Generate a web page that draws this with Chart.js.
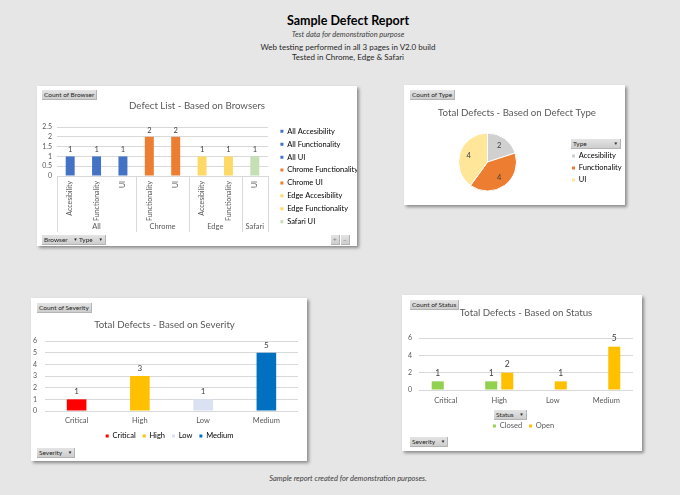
<!DOCTYPE html>
<html>
<head>
<meta charset="utf-8">
<script src="https://cdn.jsdelivr.net/npm/chart.js@4.4.1/dist/chart.umd.min.js"></script>
<style>
  body { margin:0; width:680px; height:495px; background:#e6e6e6; position:relative; overflow:hidden; font-family:Lato, "Open Sans", sans-serif; }
  .txt { position:absolute; left:0; width:696px; text-align:center; white-space:nowrap; color:#262626; }
  .panel { position:absolute; background:#fff; box-shadow:2px 2px 3px rgba(0,0,0,.4); }
  .panel canvas { position:absolute; left:0; top:0; }
  .btn { position:absolute; height:9px; line-height:9px; padding:0 2px; font-size:6.5px; color:#262626; background:linear-gradient(#e4e4e4,#cdcdcd); border-right:1px solid #b4b4b4; border-bottom:1px solid #b4b4b4; white-space:nowrap; }
  .btn i { font-style:normal; font-size:4.5px; margin-left:4px; vertical-align:top; }
</style>
</head>
<body>
<div class="txt" style="top:13px;line-height:16px;font-size:12.5px;font-weight:bold;color:#000">Sample Defect Report</div>
<div class="txt" style="top:30px;line-height:10px;font-size:7.5px;font-style:italic;color:#404040">Test data for demonstration purpose</div>
<div class="txt" style="top:42px;line-height:10px;font-size:8px">Web testing performed in all 3 pages in V2.0 build</div>
<div class="txt" style="top:52px;line-height:10px;font-size:8px">Tested in Chrome, Edge &amp; Safari</div>
<div class="txt" style="top:474px;line-height:10px;font-size:7.5px;font-style:italic;color:#404040">Sample report created for demonstration purposes.</div>

<div class="panel" style="left:37px;top:86px;width:320px;height:160px"><canvas id="c1" width="320" height="160"></canvas></div>
<div class="panel" style="left:404px;top:85px;width:221px;height:120px"><canvas id="c2" width="221" height="120"></canvas></div>
<div class="panel" style="left:31px;top:298px;width:276px;height:163px"><canvas id="c3" width="276" height="163"></canvas></div>
<div class="panel" style="left:402px;top:295px;width:240px;height:156px"><canvas id="c4" width="240" height="156"></canvas></div>

<div class="btn" style="left:42px;top:90px">Count of Browser</div>
<div class="btn" style="left:42px;top:235px">Browser <i>▼</i></div>
<div class="btn" style="left:77px;top:235px">Type <i>▼</i></div>
<div class="btn" style="left:331px;top:235px;color:#777">+</div>
<div class="btn" style="left:341px;top:235px;color:#777">−</div>
<div class="btn" style="left:410px;top:90px">Count of Type</div>
<div class="btn" style="left:571px;top:139px;width:45px">Type<i style="float:right">▼</i></div>
<div class="btn" style="left:37px;top:303px">Count of Severity</div>
<div class="btn" style="left:37px;top:448px">Severity <i>▼</i></div>
<div class="btn" style="left:410px;top:300px">Count of Status</div>
<div class="btn" style="left:494px;top:410px">Status <i>▼</i></div>
<div class="btn" style="left:410px;top:437px">Severity <i>▼</i></div>

<script>
// --- data ---
const browserGroups = ['All','All','All','Chrome','Chrome','Edge','Edge','Safari'];
const browserTypes  = ['Accesibility','Functionality','UI','Functionality','UI','Accesibility','Functionality','UI'];
const browserCounts = [1,1,1,2,2,1,1,1];
const browserTicks  = [0,0.5,1,1.5,2,2.5];

const defectTypes  = ['Accesibility','Functionality','UI'];
const defectCounts = [2,4,4];

const severityLabels = ['Critical','High','Low','Medium'];
const severityCounts = [1,3,1,5];
const severityTicks  = [0,1,2,3,4,5,6];

const statusCategories = ['Critical','High','Low','Medium'];
const closedCounts = [1,1,null,null];
const openCounts   = [null,2,1,5];
const statusTicks  = [0,2,4,6];

// --- colours ---
const groupColor = {All:'#4472c4', Chrome:'#ed7d31', Edge:'#ffd966', Safari:'#c5e0b4'};
const browserColors = browserGroups.map(g => groupColor[g]);
const typeColors = ['#d0d0d0','#ed7d31','#ffe699'];
const severityColors = ['#ff0000','#ffc000','#d9e1f2','#0070c0'];
const gridColor = '#d9d9d9';

Chart.defaults.font.family = 'Lato, "Open Sans", sans-serif';
Chart.defaults.color = '#595959';
Chart.defaults.animation = false;
Chart.defaults.plugins.tooltip.enabled = false;

// numbers above bars / inside slices
const valueLabels = {
  id: 'valueLabels',
  afterDatasetsDraw(chart, args, o) {
    const ctx = chart.ctx;
    ctx.save();
    ctx.font = o.size + 'px Lato';
    ctx.fillStyle = o.color || '#404040';
    ctx.textAlign = 'center';
    ctx.textBaseline = 'middle';
    chart.data.datasets.forEach((ds, di) => {
      chart.getDatasetMeta(di).data.forEach((el, i) => {
        const v = ds.data[i];
        if (v == null) return;
        let x = el.x, y = el.y - (o.gap || 0);
        if (o.radial) {
          const a = (el.startAngle + el.endAngle) / 2, r = el.outerRadius * o.radial;
          x = el.x + Math.cos(a) * r;
          y = el.y + Math.sin(a) * r;
        }
        ctx.fillText(v, x, y);
      });
    });
    ctx.restore();
  }
};

// fixed legend width + nudge
const legendBox = {
  id: 'legendBox',
  beforeLayout(chart, args, o) {
    const lg = chart.legend;
    if (!lg || lg._fixed || !o.width) return;
    const fit = lg.fit;
    lg.fit = function () { fit.call(this); this.width = o.width; };
    lg._fixed = true;
  },
  afterLayout(chart, args, o) {
    const lg = chart.legend;
    if (!lg) return;
    lg.left += o.dx || 0; lg.right += o.dx || 0;
    lg.top += o.dy || 0; lg.bottom += o.dy || 0;
  }
};

// second level of the category axis (All / Chrome / Edge / Safari)
const groupAxis = {
  id: 'groupAxis',
  afterDraw(chart, args, o) {
    const x = chart.scales.x, ctx = chart.ctx, g = o.groups, n = g.length;
    const half = (x.getPixelForValue(1) - x.getPixelForValue(0)) / 2;
    ctx.save();
    ctx.strokeStyle = o.lineColor; ctx.lineWidth = 1;
    ctx.font = o.size + 'px Lato'; ctx.fillStyle = '#595959';
    ctx.textAlign = 'center'; ctx.textBaseline = 'middle';
    const edges = [x.getPixelForValue(0) - half];
    let start = 0;
    for (let i = 1; i <= n; i++) {
      if (i === n || g[i] !== g[start]) {
        const l = x.getPixelForValue(start) - half, r = x.getPixelForValue(i - 1) + half;
        ctx.fillText(g[start], (l + r) / 2, x.bottom - o.labelOffset);
        edges.push(r);
        start = i;
      }
    }
    edges.forEach(px => {
      const p = Math.round(px) + 0.5;
      ctx.beginPath(); ctx.moveTo(p, x.top); ctx.lineTo(p, x.bottom); ctx.stroke();
    });
    ctx.restore();
  }
};

const titleFont = { size: 9.7, weight: 'normal' };

// --- chart 1: defects by browser ---
new Chart(document.getElementById('c1'), {
  type: 'bar',
  data: {
    labels: browserTypes,
    datasets: [{ data: browserCounts, backgroundColor: browserColors, barPercentage: 0.34, categoryPercentage: 1 }]
  },
  options: {
    responsive: false,
    layout: { padding: { left: 0, right: 0, top: 0, bottom: 14 } },
    scales: {
      x: {
        ticks: { autoSkip: false, minRotation: 90, maxRotation: 90, padding: 5, font: { size: 7 } },
        grid: { display: false, drawTicks: false }, border: { display: false },
        afterFit(s) { s.height = 56; }
      },
      y: {
        min: browserTicks[0], max: browserTicks[browserTicks.length - 1],
        afterBuildTicks(s) { s.ticks = browserTicks.map(v => ({ value: v })); },
        ticks: { autoSkip: false, padding: 5, font: { size: 7 }, callback: v => String(v) },
        grid: { color: gridColor, drawTicks: false }, border: { display: false },
        afterFit(s) { s.width = 20; }
      }
    },
    plugins: {
      title: { display: true, text: 'Defect List - Based on Browsers', color: '#595959',
               font: titleFont, padding: { top: 14.4, bottom: 15 } },
      legend: {
        position: 'right',
        labels: {
          boxWidth: 3, boxHeight: 3, padding: 5.4, font: { size: 7.5 },
          generateLabels: () => browserTypes.map((t, i) => ({
            text: browserGroups[i] + ' ' + t, fillStyle: browserColors[i], strokeStyle: browserColors[i],
            lineWidth: 0, hidden: false, index: i
          }))
        }
      },
      legendBox: { width: 89, dx: 7, dy: 17.5 },
      valueLabels: { size: 7.5, gap: 6.5 },
      groupAxis: { groups: browserGroups, lineColor: '#d9d9d9', size: 7.5, labelOffset: 5.5 }
    }
  },
  plugins: [valueLabels, legendBox, groupAxis]
});

// --- chart 2: defects by type ---
new Chart(document.getElementById('c2'), {
  type: 'pie',
  data: {
    labels: defectTypes,
    datasets: [{ data: defectCounts, backgroundColor: typeColors, borderColor: '#fff', borderWidth: 1, radius: 29 }]
  },
  options: {
    responsive: false,
    layout: { padding: { left: 10, right: 5, top: 0, bottom: 4.2 } },
    plugins: {
      title: { display: true, text: 'Total Defects - Based on Defect Type', color: '#595959',
               font: titleFont, padding: { top: 22.2, bottom: 4.4 } },
      legend: {
        position: 'right',
        labels: {
          boxWidth: 3, boxHeight: 3, padding: 4.5, font: { size: 7.5 },
          generateLabels: () => defectTypes.map((t, i) => ({
            text: t, fillStyle: typeColors[i], strokeStyle: typeColors[i], lineWidth: 0, hidden: false, index: i
          }))
        }
      },
      legendBox: { width: 59, dx: 6.5, dy: 25 },
      valueLabels: { size: 7.5, radial: 0.68 }
    }
  },
  plugins: [valueLabels, legendBox]
});

// --- chart 3: defects by severity ---
new Chart(document.getElementById('c3'), {
  type: 'bar',
  data: {
    labels: severityLabels,
    datasets: [{ data: severityCounts, backgroundColor: severityColors, barPercentage: 0.31, categoryPercentage: 1 }]
  },
  options: {
    responsive: false,
    layout: { padding: { left: 0, right: 9, top: 0, bottom: 11.25 } },
    scales: {
      x: {
        ticks: { padding: 5, font: { size: 7.5 } },
        grid: { display: false, drawTicks: false }, border: { display: false },
        afterFit(s) { s.height = 14.25; }
      },
      y: {
        min: severityTicks[0], max: severityTicks[severityTicks.length - 1],
        afterBuildTicks(s) { s.ticks = severityTicks.map(v => ({ value: v })); },
        ticks: { autoSkip: false, padding: 8, font: { size: 7 } },
        grid: { color: gridColor, drawTicks: false }, border: { display: false },
        afterFit(s) { s.width = 14; }
      }
    },
    plugins: {
      title: { display: true, text: 'Total Defects - Based on Severity', color: '#595959',
               font: titleFont, padding: { top: 21.2, bottom: 10.2 } },
      legend: {
        position: 'bottom',
        labels: {
          boxWidth: 3, boxHeight: 3, padding: 7, font: { size: 7.5 },
          generateLabels: () => severityLabels.map((t, i) => ({
            text: t, fillStyle: severityColors[i], strokeStyle: severityColors[i], lineWidth: 0, hidden: false, index: i
          }))
        }
      },
      legendBox: { dx: 5, dy: 0 },
      valueLabels: { size: 8, gap: 7.5 }
    }
  },
  plugins: [valueLabels, legendBox]
});

// --- chart 4: defects by status ---
new Chart(document.getElementById('c4'), {
  type: 'bar',
  data: {
    labels: statusCategories,
    datasets: [
      { label: 'Closed', data: closedCounts, backgroundColor: '#92d050', barPercentage: 0.75, categoryPercentage: 0.6 },
      { label: 'Open', data: openCounts, backgroundColor: '#ffc000', barPercentage: 0.75, categoryPercentage: 0.6 }
    ]
  },
  options: {
    responsive: false,
    layout: { padding: { left: 0, right: 9, top: 0, bottom: 11.25 } },
    scales: {
      x: {
        ticks: { padding: 6, font: { size: 7.5 } },
        grid: { display: false, drawTicks: false }, border: { display: false },
        afterFit(s) { s.height = 25.25; }
      },
      y: {
        min: statusTicks[0], max: statusTicks[statusTicks.length - 1],
        afterBuildTicks(s) { s.ticks = statusTicks.map(v => ({ value: v })); },
        ticks: { autoSkip: false, padding: 7, font: { size: 7 } },
        grid: { color: gridColor, drawTicks: false }, border: { display: false },
        afterFit(s) { s.width = 17; }
      }
    },
    plugins: {
      title: { display: true, text: 'Total Defects - Based on Status', color: '#595959', fullSize: false,
               font: titleFont, padding: { top: 12.2, bottom: 19.2 } },
      legend: {
        position: 'bottom',
        labels: { boxWidth: 3, boxHeight: 3, padding: 7, font: { size: 7.5 } }
      },
      legendBox: { dx: 6, dy: 0 },
      valueLabels: { size: 8.5, gap: 8 }
    }
  },
  plugins: [valueLabels, legendBox]
});
</script>
</body>
</html>
